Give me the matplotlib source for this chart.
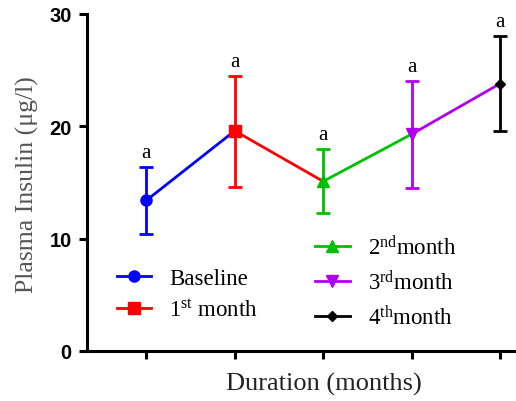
import matplotlib
matplotlib.use("Agg")
import matplotlib.pyplot as plt
from matplotlib.lines import Line2D

plt.rcParams['mathtext.fontset'] = 'custom'
plt.rcParams['mathtext.rm'] = 'Liberation Serif'
plt.rcParams['mathtext.it'] = 'Liberation Serif:italic'

groups = ["Baseline", "1$^{\\rm st}$ month", "2$^{\\rm nd}$month", "3$^{\\rm rd}$month", "4$^{\\rm th}$month"]
means = [13.4, 19.6, 15.1, 19.3, 23.8]
upper = [16.4, 24.5, 18.0, 24.0, 28.0]
lower = [10.4, 14.6, 12.3, 14.5, 19.6]
letters = ["a", "a", "a", "a", "a"]
colors = ["#0000ff", "#ff0000", "#00c000", "#b000f0", "#000000"]
markers = ["o", "s", "^", "v", "D"]
msizes = [8, 8, 8, 8, 5.5]

fig = plt.figure(figsize=(5.16, 4.02), dpi=100)
ax = fig.add_axes([87 / 516, 50 / 402, 1 - 87 / 516, 337 / 402])

xs = list(range(len(means)))
for i in xs:
    if i < len(xs) - 1:
        ax.plot([xs[i], xs[i + 1]], [means[i], means[i + 1]], color=colors[i], lw=2, zorder=2)
    ax.errorbar(xs[i], means[i],
                yerr=[[means[i] - lower[i]], [upper[i] - means[i]]],
                color=colors[i], marker=markers[i], ms=msizes[i],
                capsize=5, capthick=2, elinewidth=2, zorder=3)
    ax.text(xs[i], upper[i] + 0.45, letters[i], ha="center", va="bottom",
            family="Liberation Serif", fontsize=15)

ax.set_ylim(0, 30)
ax.set_xlim(-0.67, 4.18)
ax.set_yticks([0, 10, 20, 30])
ax.set_xticks(xs)
ax.set_xticklabels([])
for s in ["top", "right"]:
    ax.spines[s].set_visible(False)
for s in ["left", "bottom"]:
    ax.spines[s].set_linewidth(2.2)
ax.tick_params(axis="both", direction="out", length=6, width=2.2, pad=5)
for lab in ax.get_yticklabels():
    lab.set_family("Liberation Sans")
    lab.set_fontweight("bold")
    lab.set_fontsize(14.5)

fig.text(27 / 516, 1 - 185 / 402, "Plasma Insulin (\u03bcg/l)", rotation=90,
         ha="center", va="center", family="Liberation Serif", fontsize=18.5, color="#555555")
fig.text(324 / 516, 1 - 384 / 402, "Duration (months)", ha="center", va="center",
         family="Liberation Serif", fontsize=19, color="#222222")

handles = [Line2D([], [], color=colors[i], marker=markers[i], ms=msizes[i], lw=2)
           for i in xs]
leg_font = {"family": "Liberation Serif", "size": 16.5}
leg1 = ax.legend(handles[:2], groups[:2], loc="upper left", bbox_to_anchor=(0.069, 0.247),
                 frameon=False, prop=leg_font, borderpad=0, borderaxespad=0,
                 handlelength=1.5, labelspacing=0.45, handletextpad=0.8)
ax.add_artist(leg1)
ax.legend(handles[2:], groups[2:], loc="upper left", bbox_to_anchor=(0.532, 0.346),
          frameon=False, prop=leg_font, borderpad=0, borderaxespad=0,
          handlelength=1.5, labelspacing=0.47, handletextpad=0.8)

fig.savefig("out.png", dpi=100)
